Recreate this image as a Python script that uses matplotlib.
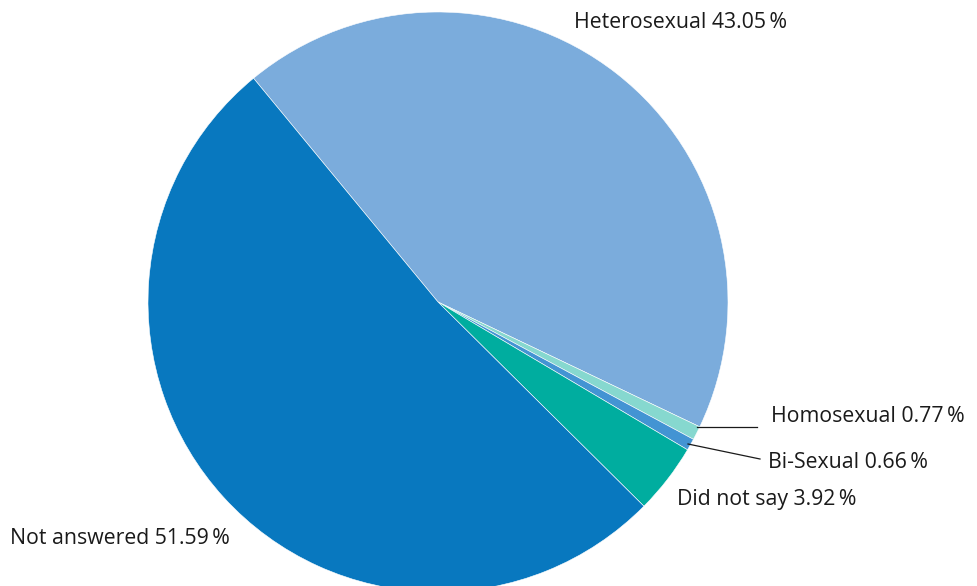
import matplotlib.pyplot as plt

plt.rcParams['font.family'] = ['Open Sans', 'DejaVu Sans']

# data
labels = ['Heterosexual', 'Homosexual', 'Bi-Sexual', 'Did not say', 'Not answered']
shares = [43.05, 0.77, 0.66, 3.92, 51.59]
colors = ['#7BACDC', '#86D8CF', '#4394D3', '#00AD9F', '#0878BF']

W, H = 977, 586
fig = plt.figure(figsize=(W / 100, H / 100), dpi=100, facecolor='white')
ax = fig.add_axes([0, 0, 1, 1])
ax.set_xlim(0, W)
ax.set_ylim(0, H)
ax.set_aspect('equal')
ax.axis('off')

CX, CY, R = 438, H - 302, 290
wedges, _ = ax.pie(shares, colors=colors, startangle=129.5, counterclock=False,
                   center=(CX, CY), radius=R,
                   wedgeprops=dict(edgecolor='white', linewidth=0.4))
ax.set_xlim(0, W)
ax.set_ylim(0, H)

# label placement (pixel coords from top)
label_pos = [(574, 22), (771, 416), (768, 462), (677, 499), (10, 538)]
for name, v, (x, y) in zip(labels, shares, label_pos):
    ax.text(x, H - y, f'{name} {v:.2f}\u2009%', ha='left', va='center',
            fontsize=15.3, color='#1A1A1A')

# leader lines
ax.plot([697, 757], [H - 427, H - 427], color='#1A1A1A', lw=0.9)
ax.plot([688, 760], [H - 444, H - 459], color='#1A1A1A', lw=0.9)

fig.savefig('out.png', dpi=100, facecolor='white')
